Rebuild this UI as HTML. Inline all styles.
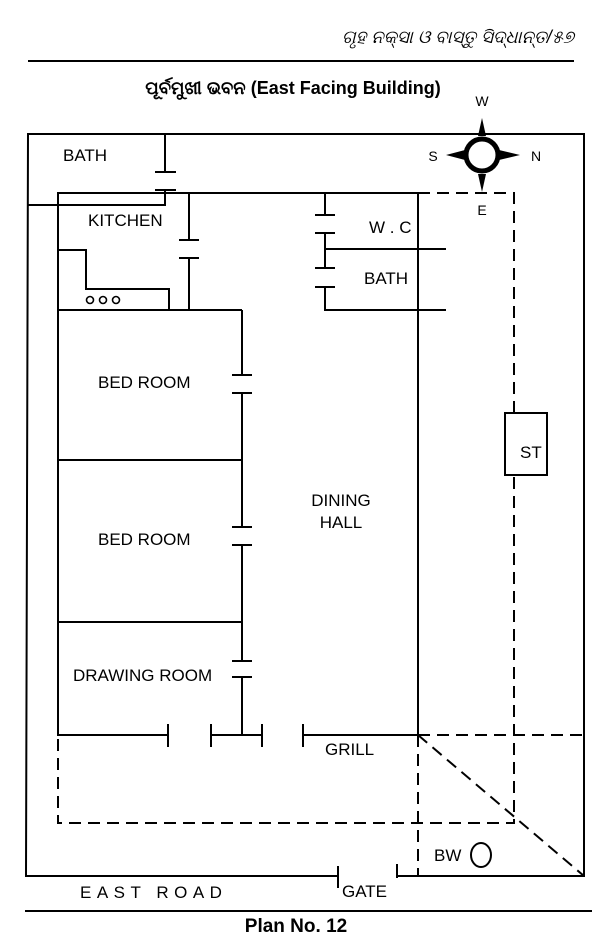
<!DOCTYPE html>
<html><head><meta charset="utf-8"><style>
body{margin:0;background:#fff;}
svg text{font-family:"Liberation Sans",sans-serif;fill:#000;}
</style></head><body>
<svg width="600" height="947" viewBox="0 0 600 947" xmlns="http://www.w3.org/2000/svg">
<g stroke="#000" stroke-width="2" fill="none">
<line x1="28" y1="61" x2="574" y2="61"/>
<line x1="25" y1="911" x2="592" y2="911"/>
<polyline points="338,876 26,876 28,134 584,134 584,876 397,876"/>
<line x1="338" y1="866" x2="338" y2="888"/>
<line x1="397" y1="864" x2="397" y2="878"/>
<polyline points="28,205 165,205 165,190"/>
<line x1="155" y1="190" x2="176" y2="190"/>
<line x1="155" y1="172" x2="176" y2="172"/>
<line x1="165" y1="134" x2="165" y2="172"/>
<polyline points="418,193 58,193 58,735 168,735"/>
<line x1="168" y1="724" x2="168" y2="747"/>
<line x1="211" y1="724" x2="211" y2="747"/>
<line x1="211" y1="735" x2="262" y2="735"/>
<line x1="262" y1="724" x2="262" y2="747"/>
<line x1="303" y1="724" x2="303" y2="747"/>
<line x1="303" y1="735" x2="418" y2="735"/>
<line x1="418" y1="193" x2="418" y2="735"/>
<line x1="189" y1="193" x2="189" y2="240"/>
<line x1="179" y1="240" x2="199" y2="240"/>
<line x1="179" y1="258" x2="199" y2="258"/>
<line x1="189" y1="258" x2="189" y2="310"/>
<polyline points="58,250 86,250 86,289 169,289 169,310"/>
<line x1="58" y1="310" x2="242" y2="310"/>
<line x1="242" y1="310" x2="242" y2="375"/>
<line x1="232" y1="375" x2="252" y2="375"/>
<line x1="232" y1="393" x2="252" y2="393"/>
<line x1="242" y1="393" x2="242" y2="527"/>
<line x1="232" y1="527" x2="252" y2="527"/>
<line x1="232" y1="545" x2="252" y2="545"/>
<line x1="242" y1="545" x2="242" y2="661"/>
<line x1="232" y1="661" x2="252" y2="661"/>
<line x1="232" y1="677" x2="252" y2="677"/>
<line x1="242" y1="677" x2="242" y2="735"/>
<line x1="58" y1="460" x2="242" y2="460"/>
<line x1="58" y1="622" x2="242" y2="622"/>
<line x1="325" y1="193" x2="325" y2="215"/>
<line x1="315" y1="215" x2="335" y2="215"/>
<line x1="315" y1="233" x2="335" y2="233"/>
<line x1="325" y1="233" x2="325" y2="268"/>
<line x1="315" y1="268" x2="335" y2="268"/>
<line x1="315" y1="287" x2="335" y2="287"/>
<polyline points="325,287 325,310 446,310"/>
<line x1="325" y1="249" x2="446" y2="249"/>
<g stroke-dasharray="12,7">
<polyline points="418,193 514,193 514,823 58,823 58,735"/>
<line x1="418" y1="735" x2="418" y2="876"/>
<line x1="418" y1="735" x2="584" y2="735"/>
<line x1="418" y1="735" x2="584" y2="876"/>
</g>
<rect x="505" y="413" width="42" height="62" fill="#fff"/>
<ellipse cx="481" cy="855" rx="10" ry="12"/>
<circle cx="482" cy="155" r="16" stroke-width="5"/>
</g>
<g fill="#000">
<polygon points="482,118 486,136 478,136"/>
<polygon points="482,192 486,174 478,174"/>
<polygon points="446,155 465,150 465,160"/>
<polygon points="520,155 499,150 499,160"/>
</g>
<g fill="none" stroke="#000" stroke-width="1.6">
<circle cx="90" cy="300" r="3.5"/><circle cx="103" cy="300" r="3.5"/><circle cx="116" cy="300" r="3.5"/>
</g>
<text x="574" y="43" font-size="18" text-anchor="end" font-style="italic">ଗୃହ ନକ୍ସା ଓ ବାସ୍ତୁ ସିଦ୍ଧାନ୍ତ/୫୭</text>
<text x="293" y="94" font-size="18" font-weight="bold" text-anchor="middle">ପୂର୍ବମୁଖୀ ଭବନ (East Facing Building)</text>
<text x="482" y="106" font-size="14" text-anchor="middle">W</text>
<text x="433" y="161" font-size="14" text-anchor="middle">S</text>
<text x="536" y="161" font-size="14" text-anchor="middle">N</text>
<text x="482" y="215" font-size="14" text-anchor="middle">E</text>
<g font-size="17">
<text x="63" y="161">BATH</text>
<text x="88" y="226">KITCHEN</text>
<text x="369" y="233">W . C</text>
<text x="364" y="284">BATH</text>
<text x="98" y="388">BED ROOM</text>
<text x="98" y="545">BED ROOM</text>
<text x="73" y="681">DRAWING ROOM</text>
<text x="341" y="506" text-anchor="middle">DINING</text>
<text x="341" y="528" text-anchor="middle">HALL</text>
<text x="325" y="755">GRILL</text>
<text x="520" y="458">ST</text>
<text x="434" y="861">BW</text>
<text x="342" y="897">GATE</text>
<text x="80" y="898" letter-spacing="5.5">EAST ROAD</text>
</g>
<text x="296" y="932" font-size="19" font-weight="bold" text-anchor="middle">Plan No. 12</text>
</svg>
</body></html>
